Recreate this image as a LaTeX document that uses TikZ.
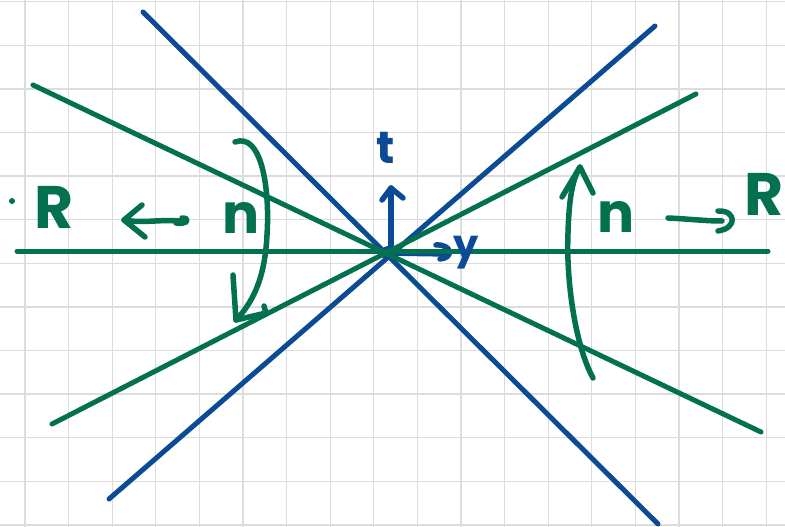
\documentclass[tikz,border=0pt]{standalone}
\usepackage{fontspec}
\setmainfont{Poppins}
\definecolor{pblue}{HTML}{0B4A94}
\definecolor{pgreen}{HTML}{03714F}
\definecolor{gridc}{HTML}{DCDCDC}
\tikzset{
  axline/.style={line width=5pt,line cap=round},
  ink/.style={line width=5.5pt,line cap=round,line join=round},
  gridline/.style={gridc,line width=1.3pt},
  lbl/.style={inner sep=0pt,anchor=base},
}
\begin{document}
\begin{tikzpicture}[x=1pt,y=-1pt]
\useasboundingbox (0,0) rectangle (785,527);
\fill[white] (0,0) rectangle (785,527);
\clip (0,0) rectangle (785,527);
\foreach \i in {0,...,17} \draw[gridline] ({25+43.6*\i},0) -- ({25+43.6*\i},527);
\foreach \j in {0,...,12} \draw[gridline] (0,{1.7+43.6*\j}) -- (785,{1.7+43.6*\j});

% end points of the lines
\coordinate (B1a) at (143,12);  \coordinate (B1b) at (658,524);
\coordinate (B2a) at (109,499); \coordinate (B2b) at (655,26);
\coordinate (G1a) at (33,85);   \coordinate (G1b) at (761,432);
\coordinate (G2a) at (52,424);  \coordinate (G2b) at (696,94);
\coordinate (G0a) at (17,251);  \coordinate (G0b) at (768,251);
\coordinate (O) at (388,253);

% blue lines
\draw[axline,pblue] (B1a) -- (B1b);
\draw[axline,pblue] (B2a) -- (B2b);

% blue t and y arrows
\coordinate (Ttip) at (391,188);
\draw[ink,pblue] (391,252) -- (Ttip);
\draw[ink,pblue] (382,200) -- (Ttip) -- (403,198);
\coordinate (Ytip) at (448,254);
\draw[ink,pblue] (O) -- (Ytip);
\draw[ink,pblue] (436,245) .. controls (452,244) and (454,258) .. (440,259);
\fill[pblue] (O) circle (7);

% green lines
\draw[axline,pgreen] (G1a) -- (G1b);
\draw[axline,pgreen] (G2a) -- (G2b);
\draw[axline,pgreen] (G0a) -- (G0b);

% labels
\node[lbl,pblue,font=\fontsize{45}{45}\selectfont\bfseries] (t) at (386,163) {t};
\node[lbl,pblue,font=\fontsize{40}{40}\selectfont\bfseries] (y) at (466,258) {y};
\node[lbl,pgreen,font=\fontsize{60}{60}\selectfont\bfseries] (Rl) at (54,228) {R};
\node[lbl,pgreen,font=\fontsize{60}{60}\selectfont\bfseries] (Rr) at (764,215) {R};
\node[lbl,pgreen,font=\fontsize{55}{55}\selectfont\bfseries] (nl) at (241,233) {n};
\node[lbl,pgreen,font=\fontsize{55}{55}\selectfont\bfseries] (nr) at (616,232) {n};
\fill[pgreen] (12,201) circle (3);

% left straight arrow (n -> R)
\coordinate (Ltip) at (124,220);
\draw[ink,pgreen] (186,222) .. controls (165,218) and (145,224) .. (Ltip);
\draw[ink,pgreen] (176,223) .. controls (186,225) and (192,218) .. (182,218);
\draw[ink,pgreen] (142,205) -- (Ltip) -- (145,237);

% right straight arrow (n -> R)
\draw[ink,pgreen] (668,218) .. controls (690,219) and (705,221) .. (722,221);
\draw[ink,pgreen] (718,211) .. controls (736,210) and (738,228) .. (718,231);

% left curved arrow
\coordinate (LCtip) at (236,320);
\draw[ink,pgreen] (235,142) .. controls (262,132) and (270,190) .. (267,235) .. controls (265,275) and (255,300) .. (LCtip);
\draw[ink,pgreen] (233,275) -- (LCtip) -- (266,313) -- (264,306);

% right curved arrow
\coordinate (RCtip) at (580,167);
\draw[ink,pgreen] (593,378) .. controls (575,345) and (566,280) .. (568,233) .. controls (569,200) and (572,180) .. (RCtip);
\draw[ink,pgreen] (562,197) -- (RCtip) -- (593,193);
\end{tikzpicture}
\end{document}
